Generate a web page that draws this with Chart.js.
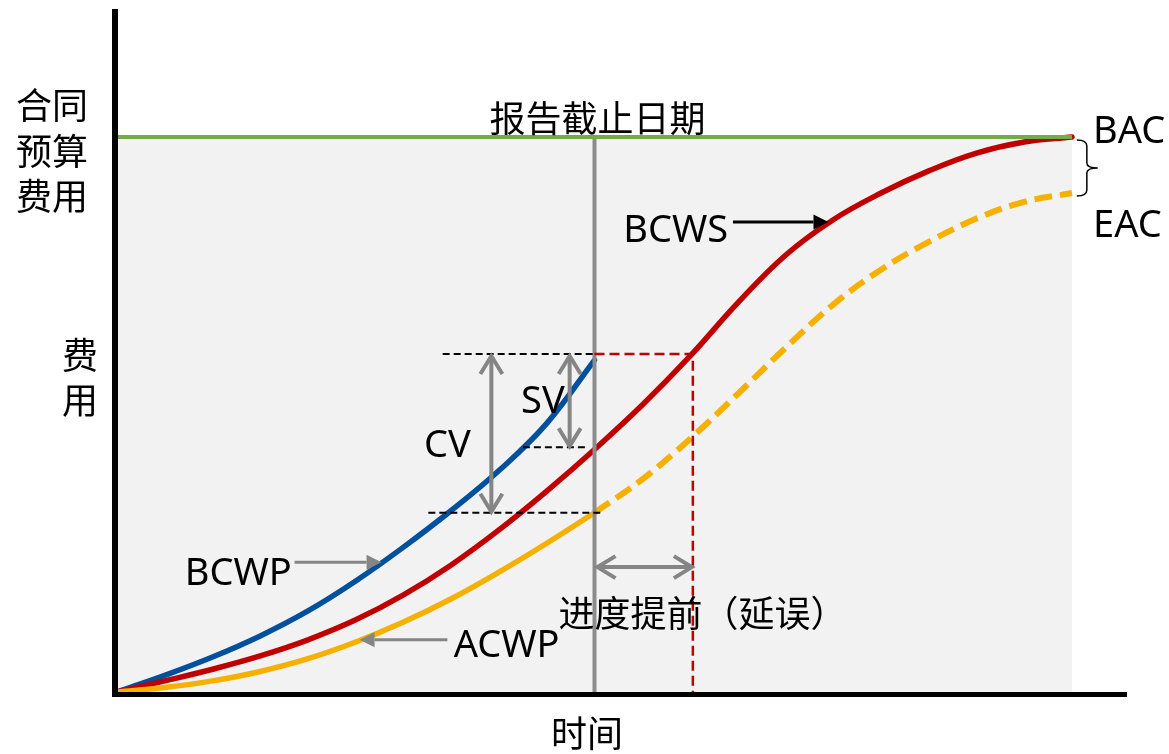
<!DOCTYPE html>
<html>
<head>
<meta charset="utf-8">
<script src="https://cdn.jsdelivr.net/npm/chart.js@4.4.1/dist/chart.umd.min.js"></script>
<style>
  html, body { margin: 0; padding: 0; background: #fff; }
</style>
</head>
<body>
<canvas id="evm" width="1169" height="754"></canvas>
<script>
// time axis, 0 = start, 100 = planned finish
const planTime = [0, 5, 10, 15, 20, 25, 30, 35, 40, 45, 50, 55, 60, 65, 70, 75, 80, 85, 90, 95, 100];
const bcws = [0, 2.0, 4.1, 6.5, 9.4, 13.0, 17.5, 22.9, 29.2, 36.2, 43.7, 51.7, 60.5, 70.1, 78.7, 85.1, 89.9, 93.9, 97.1, 99.1, 100];

const doneTime = [0, 5, 10, 15, 20, 25, 30, 35, 40, 45, 50];
const bcwp = [0, 3.0, 6.3, 10.1, 14.6, 20.0, 26.1, 32.7, 39.9, 48.4, 59.8];
const acwp = [0, 0.8, 2.0, 3.7, 6.0, 9.0, 12.6, 16.8, 21.6, 26.8, 32.3];

const forecastTime = [50, 55, 60, 65, 70, 75, 80, 85, 90, 95, 100];
const eac = [32.3, 38.3, 45.6, 53.7, 62.0, 69.8, 76.1, 81.1, 85.3, 88.3, 89.9];

const bac = 100;
const statusDate = 50;
const bcwpAtStatus = 60.9;
const bcwsAtStatus = 44.1;
const acwpAtStatus = 32.3;
const earnedScheduleTime = 60.3;

const latinFont = '38px "Noto Sans"';
const cjkFont = '36px "Noto Sans CJK SC"';

function pts(xs, ys) {
    return xs.map((x, i) => ({ x: x, y: ys[i] }));
}

function seg(x1, y1, x2, y2) {
    return [{ x: x1, y: y1 }, { x: x2, y: y2 }];
}

function line(ctx, x1, y1, x2, y2) {
    ctx.beginPath();
    ctx.moveTo(x1, y1);
    ctx.lineTo(x2, y2);
    ctx.stroke();
}

// open "V" head, tip at (tx,ty), pointing along (dx,dy)
function openHead(ctx, tx, ty, dx, dy, len, half) {
    const bx = tx - dx * len, by = ty - dy * len;
    ctx.beginPath();
    ctx.moveTo(bx - dy * half, by + dx * half);
    ctx.lineTo(tx, ty);
    ctx.lineTo(bx + dy * half, by - dx * half);
    ctx.stroke();
}

function twoWay(ctx, x1, y1, x2, y2) {
    ctx.save();
    ctx.strokeStyle = '#858585';
    ctx.lineWidth = 4;
    line(ctx, x1, y1, x2, y2);
    const L = Math.hypot(x2 - x1, y2 - y1);
    const dx = (x2 - x1) / L, dy = (y2 - y1) / L;
    openHead(ctx, x2, y2, dx, dy, 18, 11);
    openHead(ctx, x1, y1, -dx, -dy, 18, 11);
    ctx.restore();
}

function oneWay(ctx, x1, y1, x2, y2, color) {
    ctx.save();
    ctx.strokeStyle = color;
    ctx.fillStyle = color;
    ctx.lineWidth = 3;
    const L = Math.hypot(x2 - x1, y2 - y1);
    const dx = (x2 - x1) / L, dy = (y2 - y1) / L;
    const head = 15, half = 7.5;
    line(ctx, x1, y1, x2 - dx * head, y2 - dy * head);
    ctx.beginPath();
    ctx.moveTo(x2, y2);
    ctx.lineTo(x2 - dx * head - dy * half, y2 - dy * head + dx * half);
    ctx.lineTo(x2 - dx * head + dy * half, y2 - dy * head - dx * half);
    ctx.closePath();
    ctx.fill();
    ctx.restore();
}

function brace(ctx, x, yTop, yBot, w) {
    const mid = (yTop + yBot) / 2;
    const vx = x + w * 0.48;
    ctx.save();
    ctx.strokeStyle = '#000';
    ctx.lineWidth = 1.5;
    ctx.beginPath();
    ctx.moveTo(x, yTop);
    ctx.quadraticCurveTo(vx, yTop, vx, yTop + 6);
    ctx.lineTo(vx, mid - 5);
    ctx.quadraticCurveTo(vx, mid, x + w, mid);
    ctx.quadraticCurveTo(vx, mid, vx, mid + 5);
    ctx.lineTo(vx, yBot - 6);
    ctx.quadraticCurveTo(vx, yBot, x, yBot);
    ctx.stroke();
    ctx.restore();
}

function text(ctx, str, x, y, font, align, baseline) {
    ctx.font = font;
    ctx.textAlign = align || 'center';
    ctx.textBaseline = baseline || 'middle';
    ctx.fillStyle = '#000';
    ctx.fillText(str, x, y);
}

const evmDecor = {
    id: 'evmDecor',
    beforeDatasetsDraw(chart) {
        const ctx = chart.ctx;
        const sx = chart.scales.x, sy = chart.scales.y;
        const x0 = sx.getPixelForValue(0), x1 = sx.getPixelForValue(100);
        const y0 = sy.getPixelForValue(0), y1 = sy.getPixelForValue(bac);
        ctx.save();
        ctx.fillStyle = '#f2f2f2';
        ctx.fillRect(x0, y1, x1 - x0, y0 - y1);
        ctx.restore();
    },
    afterDatasetsDraw(chart) {
        const ctx = chart.ctx;
        const sx = chart.scales.x, sy = chart.scales.y;
        const X = v => sx.getPixelForValue(v);
        const Y = v => sy.getPixelForValue(v);
        const area = chart.chartArea;

        // axes
        ctx.save();
        ctx.fillStyle = '#000';
        ctx.fillRect(X(0) - 5, area.top - 1, 6, Y(0) - area.top + 6);
        ctx.fillRect(X(0) - 5, Y(0), area.right - X(0) + 5, 5);
        ctx.restore();

        // variance arrows
        twoWay(ctx, X(39.2), Y(bcwpAtStatus) + 2, X(39.2), Y(acwpAtStatus) - 1);
        twoWay(ctx, X(47.4), Y(bcwpAtStatus) + 2, X(47.4), Y(bcwsAtStatus) - 1);
        twoWay(ctx, X(statusDate) + 3, Y(22.5), X(earnedScheduleTime) - 1, Y(22.5));

        // pointers to curves
        oneWay(ctx, X(18.6), Y(23.4), X(27.7), Y(23.4), '#858585');
        oneWay(ctx, X(34.6), Y(9.4), X(25.4), Y(9.4), '#858585');
        oneWay(ctx, X(64.5), Y(84.7), X(74.5), Y(84.7), '#000');

        brace(ctx, X(100.5), Y(bac) + 3, Y(eac[eac.length - 1]) + 3, 21);

        // labels
        text(ctx, '报告截止日期', X(statusDate) + 3, Y(103.4), cjkFont);
        text(ctx, '进度提前（延误）', X(61.3), Y(14.2), cjkFont);
        text(ctx, 'BCWS', X(58.5), Y(81.1), latinFont, 'center', 'alphabetic');
        text(ctx, 'SV', X(44.6), Y(50.3), latinFont, 'center', 'alphabetic');
        text(ctx, 'CV', X(34.6), Y(42.3), latinFont, 'center', 'alphabetic');
        text(ctx, 'BCWP', X(12.7), Y(19.3), latinFont, 'center', 'alphabetic');
        text(ctx, 'ACWP', X(40.8), Y(6.3), latinFont, 'center', 'alphabetic');
        text(ctx, 'BAC', X(102.2), Y(98.9), latinFont, 'left', 'alphabetic');
        text(ctx, 'EAC', X(102.2), Y(82.0), latinFont, 'left', 'alphabetic');

        // axis titles
        text(ctx, '合同', 52, 105, cjkFont);
        text(ctx, '预算', 52, 151, cjkFont);
        text(ctx, '费用', 52, 196, cjkFont);
        text(ctx, '费', 80, 355, cjkFont);
        text(ctx, '用', 80, 400, cjkFont);
        text(ctx, '时间', 587, 733, cjkFont);
    }
};

const curve = {
    pointRadius: 0,
    fill: false,
    tension: 0.4,
    borderCapStyle: 'round'
};

const guide = {
    pointRadius: 0,
    fill: false,
    tension: 0,
    borderWidth: 2,
    borderColor: '#000',
    borderDash: [7, 4]
};

document.addEventListener("DOMContentLoaded", function () {
    new Chart("evm", {
        type: "line",
        data: {
            datasets: [
                Object.assign({}, guide, { data: seg(34.1, bcwpAtStatus, statusDate, bcwpAtStatus), order: 1 }),
                Object.assign({}, guide, { data: seg(42.5, bcwsAtStatus, 49.2, bcwsAtStatus), order: 1 }),
                Object.assign({}, guide, { data: seg(32.6, acwpAtStatus, 50.6, acwpAtStatus), order: 1 }),
                Object.assign({}, guide, {
                    data: [{ x: statusDate, y: bcwpAtStatus }, { x: earnedScheduleTime, y: bcwpAtStatus }, { x: earnedScheduleTime, y: 0 }],
                    borderColor: '#c00000', borderWidth: 2.5, borderDash: [10, 5], order: 1
                }),
                { data: seg(0, bac, 100, bac), borderColor: '#70ad47', borderWidth: 4, pointRadius: 0, order: 0 },
                { data: seg(statusDate, 0, statusDate, bac), borderColor: '#8c8c8c', borderWidth: 4, pointRadius: 0, order: 2 },
                Object.assign({}, curve, { label: 'ACWP', data: pts(doneTime, acwp), borderColor: '#f5b000', borderWidth: 5.5, order: 3 }),
                Object.assign({}, curve, { label: 'EAC', data: pts(forecastTime, eac), borderColor: '#f5b000', borderWidth: 6, borderDash: [18, 8], borderCapStyle: 'butt', order: 3 }),
                Object.assign({}, curve, { label: 'BCWS', data: pts(planTime, bcws), borderColor: '#c00000', borderWidth: 5.5, order: 4 }),
                Object.assign({}, curve, { label: 'BCWP', data: pts(doneTime, bcwp), borderColor: '#00509e', borderWidth: 5.5, order: 5 })
            ]
        },
        options: {
            responsive: false,
            animation: false,
            devicePixelRatio: 1,
            layout: { padding: { left: 117, right: 42, top: 10, bottom: 62 } },
            scales: {
                x: { type: 'linear', min: 0, max: 105.76, display: false },
                y: { type: 'linear', min: 0, max: 122.88, display: false }
            },
            plugins: {
                legend: { display: false },
                tooltip: { enabled: false }
            }
        },
        plugins: [evmDecor]
    });
});
</script>
</body>
</html>
